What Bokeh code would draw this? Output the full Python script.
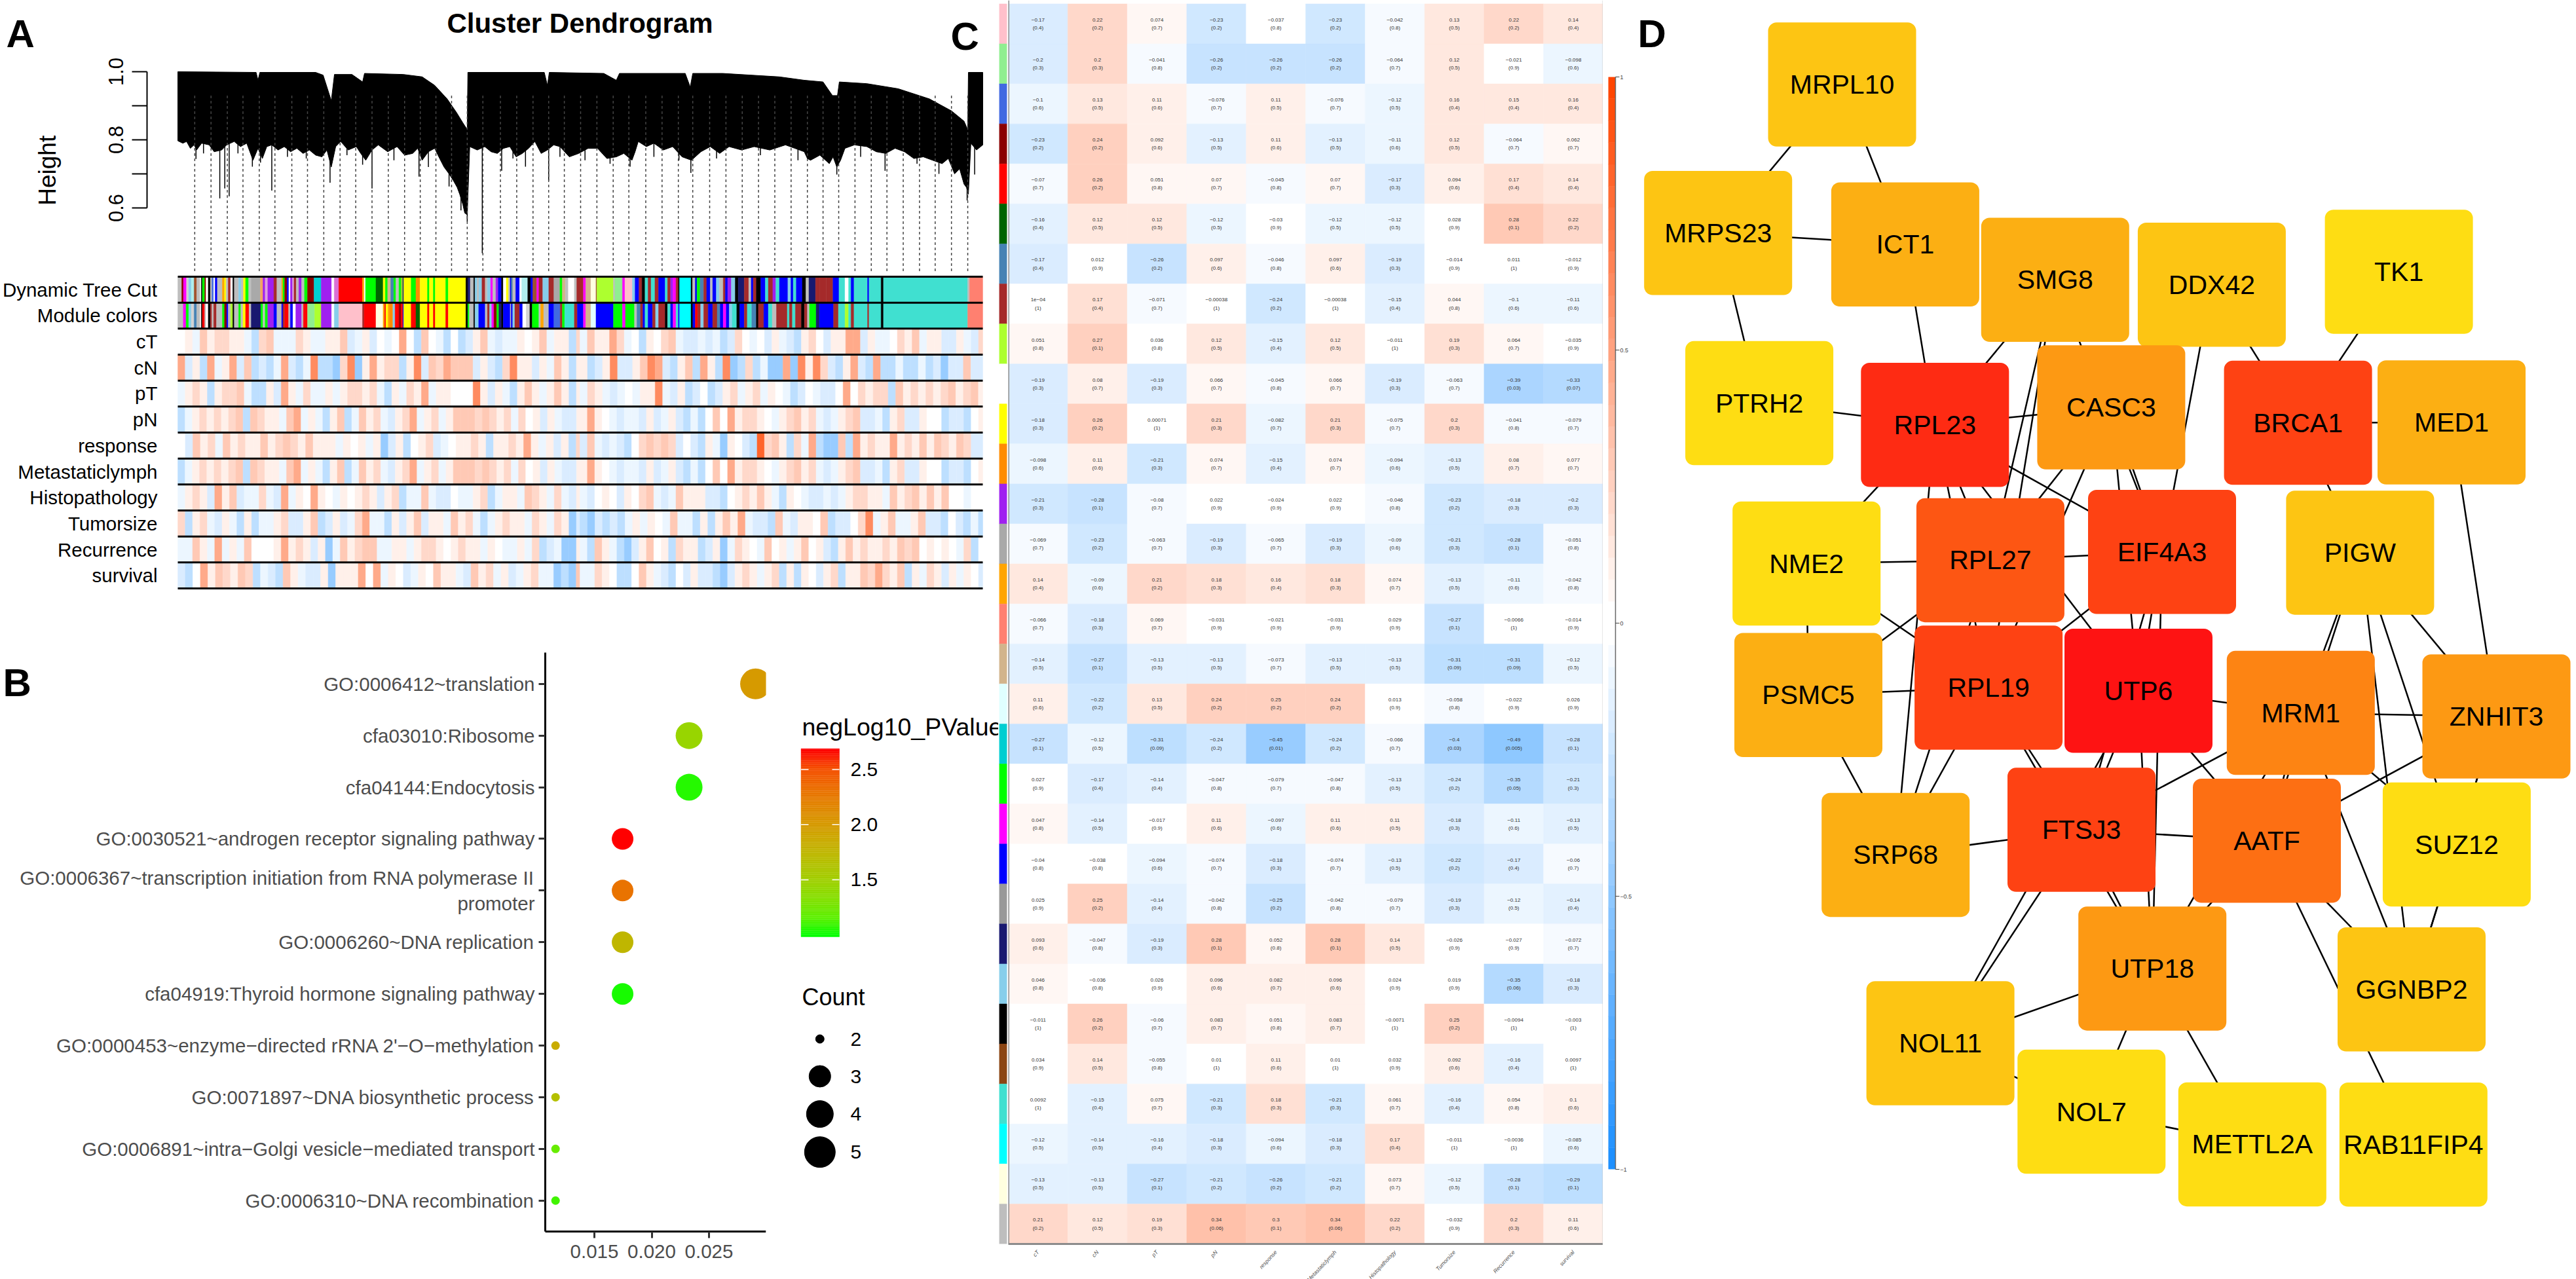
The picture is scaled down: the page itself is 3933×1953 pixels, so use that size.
import numpy as np
from math import pi
from bokeh.plotting import figure
from bokeh.layouts import row, column
from bokeh.models import (Range1d, FactorRange, Label, Span, FixedTicker, NumeralTickFormatter,
                          LinearColorMapper, ColumnDataSource)
from bokeh.transform import transform
from bokeh.core.properties import value
from bokeh.embed import file_html
from bokeh.resources import INLINE

FONT = "Liberation Sans"

# ------------------------------------------------------------ panel A data
# dendrogram envelope: leaf position (0-1285) and merge height
upper_x = [0,125,128,131,220,232,245,250,278,295,298,360,390,410,430,445,455,462,463,585,590,593,680,700,705,810,818,822,870,960,1000,1030,1045,1053,1056,1100,1150,1200,1235,1255,1261,1262,1285]
upper_h = [1.0,.998,.975,.998,.998,.99,.915,.992,.992,.97,.995,.992,.985,.96,.92,.88,.85,.83,.998,.998,.96,.998,.995,.975,.995,.995,.955,.995,.995,.985,.975,.97,.93,.93,.97,.965,.95,.92,.885,.855,.83,.998,.998]
lower_x = [0,8,14,20,26,30,38,50,58,70,78,90,100,110,120,128,135,142,150,160,170,180,190,200,210,220,230,238,245,252,260,272,285,292,300,310,320,335,350,362,375,383,390,400,410,418,425,433,440,446,450,455,458,462,466,478,490,500,510,520,530,540,550,560,570,580,590,600,610,625,640,655,670,685,700,712,725,730,735,748,760,775,790,805,820,835,850,865,880,900,920,945,970,985,1000,1005,1010,1025,1040,1046,1052,1058,1065,1080,1100,1115,1130,1145,1160,1175,1190,1205,1220,1230,1240,1248,1255,1259,1262,1266,1275,1285]
lower_h = [.797,.79,.795,.775,.785,.77,.79,.785,.765,.77,.785,.795,.78,.79,.74,.775,.745,.78,.785,.77,.78,.765,.775,.76,.77,.755,.75,.77,.72,.78,.795,.77,.78,.76,.74,.77,.785,.765,.78,.755,.76,.775,.74,.765,.775,.745,.72,.70,.68,.66,.64,.61,.585,.58,.78,.77,.78,.765,.76,.775,.78,.75,.76,.775,.795,.76,.77,.785,.78,.75,.76,.775,.775,.745,.75,.76,.74,.765,.795,.78,.79,.77,.78,.75,.74,.765,.78,.76,.78,.77,.78,.77,.785,.775,.765,.745,.74,.755,.73,.75,.72,.74,.775,.785,.78,.765,.76,.775,.765,.745,.75,.74,.73,.745,.70,.715,.67,.66,.64,.79,.77,.785]
spike_x = [29,41,67,75,82,96,119,132,150,175,205,243,270,295,310,345,385,400,433,452,462,486,517,535,555,592,610,650,690,722,760,800,819,860,930,990,1052,1090,1129,1180,1215,1260,1272]
spike_h = [.744,.76,.628,.657,.634,.76,.721,.733,.651,.75,.745,.674,.755,.727,.657,.74,.692,.72,.663,.593,.560,.467,.709,.745,.721,.680,.75,.74,.73,.721,.75,.74,.703,.745,.755,.74,.698,.75,.709,.73,.70,.622,.698]
cut_x = [27,53,79,104,130,155,182,207,233,259,284,310,336,362,387,412,437,462,487,515,541,567,592,617,643,669,695,720,747,773,799,822,849,875,901,927,953,979,1005,1030,1055,1081,1107,1132,1158,1184,1209,1235,1261]

tree_left = [(18,"gray"),(26,"darkred"),(40,"magenta"),(50,"lightgray"),(62,"skyblue"),(75,"paleturquoise"),(87,"sienna"),(103,"gray"),(108,"white"),(113,"black"),(124,"green"),(130,"darkred"),(140,"white"),(150,"black"),(157,"gray"),(165,"royalblue"),(172,"white"),(182,"blue"),(205,"gray"),(215,"orange"),(222,"yellow"),(232,"gray"),(243,"brown"),(253,"white"),(260,"black"),(280,"gray"),(292,"skyblue"),(302,"gray"),(312,"yellow"),(326,"green"),(338,"gray"),(380,"darkgray"),(392,"sandybrown"),(402,"purple"),(414,"plum"),(442,"purple"),(456,"brown"),(478,"gray"),(484,"orange"),(492,"green"),(503,"darkred"),(511,"blue"),(518,"white"),(528,"purple"),(535,"plum"),(545,"brown"),(557,"gray"),(570,"purple"),(583,"gray"),(597,"green"),(627,"darkred"),(660,"darkturquoise"),(708,"purple"),(720,"white"),(741,"orchid"),(850,"red"),(858,"orange"),(864,"white"),(912,"green"),(945,"darkgreen"),(955,"yellow"),(966,"green"),(980,"tan"),(994,"steelblue"),(1004,"green"),(1018,"gray"),(1028,"green"),(1036,"yellowgreen"),(1040,"navy"),(1074,"yellow"),(1096,"green"),(1115,"darkorange"),(1149,"yellow"),(1158,"green"),(1176,"yellow"),(1185,"green"),(1233,"yellow"),(1245,"green"),(1326,"yellow"),(1335,"black"),(1346,"midnightblue"),(1362,"gray"),(1368,"black"),(1378,"skyblue"),(1386,"gray"),(1400,"skyblue"),(1415,"brown"),(1425,"gray"),(1440,"skyblue"),(1450,"magenta"),(1464,"gray"),(1475,"purple"),(1490,"blue"),(1498,"black"),(1512,"white"),(1522,"yellow"),(1530,"gray"),(1540,"blue"),(1552,"brown"),(1560,"gray")]
module_left = [(25,"gray"),(38,"magenta"),(50,"green"),(62,"skyblue"),(75,"lightgray"),(87,"steelblue"),(103,"gray"),(108,"white"),(113,"black"),(124,"red"),(130,"gray"),(140,"white"),(150,"black"),(157,"brown"),(165,"gray"),(178,"brown"),(205,"gray"),(215,"green"),(225,"darkred"),(232,"blue"),(243,"gray"),(253,"greenyellow"),(260,"black"),(280,"gray"),(290,"green"),(300,"gray"),(312,"yellow"),(328,"red"),(338,"gray"),(382,"midnightblue"),(392,"green"),(402,"gray"),(414,"green"),(442,"purple"),(456,"blue"),(478,"gray"),(484,"blue"),(492,"brown"),(510,"red"),(518,"gray"),(530,"blue"),(543,"white"),(570,"purple"),(578,"gray"),(585,"red"),(597,"red"),(630,"lightgreen"),(660,"greenyellow"),(708,"purple"),(720,"white"),(741,"skyblue"),(850,"pink"),(858,"brown"),(912,"red"),(945,"lightyellow"),(952,"orange"),(958,"red"),(968,"yellow"),(975,"orange"),(990,"darkorange"),(1000,"skyblue"),(1018,"red"),(1028,"darkred"),(1036,"red"),(1040,"blue"),(1074,"yellow"),(1096,"red"),(1115,"darkgreen"),(1149,"yellow"),(1158,"red"),(1176,"yellow"),(1185,"red"),(1233,"yellow"),(1245,"red"),(1326,"yellow"),(1335,"black"),(1342,"green"),(1362,"gray"),(1368,"black"),(1385,"skyblue"),(1415,"blue"),(1425,"gray"),(1435,"brown"),(1445,"skyblue"),(1455,"magenta"),(1468,"darkred"),(1478,"green"),(1490,"midnightblue"),(1498,"black"),(1530,"blue"),(1545,"gray"),(1560,"brown")]
tree_right = [(5,"steelblue"),(15,"gray"),(28,"blue"),(35,"white"),(55,"paleturquoise"),(65,"black"),(72,"blue"),(85,"sienna"),(92,"magenta"),(105,"brown"),(125,"skyblue"),(142,"brown"),(162,"darkgray"),(170,"green"),(180,"tan"),(190,"gray"),(210,"white"),(218,"gray"),(240,"brown"),(248,"magenta"),(265,"tan"),(282,"lightyellow"),(285,"sienna"),(340,"greenyellow"),(345,"gray"),(370,"lightgreen"),(378,"magenta"),(403,"pink"),(412,"skyblue"),(425,"blue"),(435,"brown"),(445,"black"),(455,"turquoise"),(465,"brown"),(478,"turquoise"),(490,"brown"),(512,"blue"),(520,"turquoise"),(530,"brown"),(538,"purple"),(548,"magenta"),(556,"brown"),(560,"black"),(598,"cyan"),(603,"black"),(612,"gray"),(618,"blue"),(628,"green"),(640,"steelblue"),(650,"brown"),(662,"blue"),(670,"gray"),(682,"blue"),(692,"skyblue"),(705,"gray"),(712,"brown"),(720,"blue"),(732,"purple"),(745,"skyblue"),(755,"black"),(775,"midnightblue"),(790,"brown"),(798,"gray"),(805,"blue"),(815,"brown"),(830,"black"),(845,"blue"),(855,"turquoise"),(870,"brown"),(880,"purple"),(892,"turquoise"),(920,"blue"),(930,"skyblue"),(938,"blue"),(948,"turquoise"),(968,"blue"),(980,"black"),(990,"gray"),(1012,"midnightblue"),(1025,"brown"),(1048,"brown"),(1070,"brown"),(1090,"blue"),(1110,"turquoise"),(1122,"white"),(1130,"turquoise"),(1140,"blue"),(1185,"turquoise"),(1190,"blue"),(1230,"turquoise"),(1238,"black"),(1518,"turquoise"),(1524,"gray"),(1568,"salmon")]
module_right = [(5,"blue"),(12,"skyblue"),(28,"brown"),(38,"blue"),(50,"white"),(62,"lightgray"),(70,"black"),(92,"green"),(98,"gray"),(108,"orange"),(125,"gray"),(142,"blue"),(163,"royalblue"),(170,"brown"),(178,"green"),(210,"turquoise"),(220,"brown"),(240,"blue"),(248,"magenta"),(265,"tan"),(282,"lightcyan"),(340,"blue"),(370,"green"),(380,"magenta"),(410,"green"),(418,"gray"),(430,"steelblue"),(438,"brown"),(445,"blue"),(455,"turquoise"),(470,"blue"),(480,"brown"),(490,"skyblue"),(512,"brown"),(520,"black"),(530,"turquoise"),(538,"blue"),(548,"magenta"),(556,"turquoise"),(560,"blue"),(598,"cyan"),(604,"black"),(612,"blue"),(620,"red"),(630,"brown"),(640,"skyblue"),(655,"brown"),(670,"blue"),(685,"brown"),(695,"steelblue"),(705,"blue"),(715,"magenta"),(725,"blue"),(735,"skyblue"),(750,"turquoise"),(760,"black"),(775,"blue"),(785,"brown"),(800,"turquoise"),(815,"steelblue"),(822,"black"),(840,"brown"),(855,"blue"),(868,"turquoise"),(882,"gray"),(918,"brown"),(925,"turquoise"),(935,"brown"),(945,"turquoise"),(965,"brown"),(975,"black"),(985,"brown"),(992,"gray"),(1014,"green"),(1025,"midnightblue"),(1072,"blue"),(1088,"brown"),(1110,"turquoise"),(1122,"greenyellow"),(1130,"turquoise"),(1140,"brown"),(1185,"turquoise"),(1190,"brown"),(1230,"turquoise"),(1238,"black"),(1518,"turquoise"),(1568,"salmon")]

# gene-trait correlation stripes, one character per stripe, for left and right halves of the tree
LEVELS = {"D":-.45,"C":-.3,"B":-.2,"A":-.1,".":0,"a":.1,"b":.2,"c":.3,"d":.45,"e":.62,"f":.8}
trait_names = ["cT","cN","pT","pN","response","Metastaticlymph","Histopathology","Tumorsize","Recurrence","survival"]
trait_left = {
 "cT":".aAcabbaaACbcAAAbaAAaacBAaB.A.d.Cc.AC.CBacABAAa.acAaaCb",
 "cN":"dBaCdAadBcCBCAdBCAeCCDbeDadabbCaeBcbdcccBaBCbeaaBaAcaCa",
 "pT":"AabaCabbcACCaBdaAbAAaAabbabACaAbadAaa...eaBaACacaAacaCa",
 "pN":"CAabababcCcbaaAcdAaACacCAcabABabdAabAacccbcbabAb.aBaABBa",
 "response":".BcabAcabaacabcbacaaaAa.aAaDBaC.abBA.aabaCaabadaAaBaCb",
 "Metastaticlymph":"CAabababcCcbaaAcdAaACacCAcabABabdAabAacccbcbabAb.aBaABBa",
 "Histopathology":"AabaBdacBAAbABdAa.da.Aa.abaBabCAAcABB.AAabCAaaAcbaAbABa",
 "Tumorsize":"bCabABaACaCAAabBBacCBaBAbdAACaBacBaaAcabACAabaaAbaAbaDB",
 "Recurrence":"AAcaAdAaAc...adabaBaDAcabccAAaaAabba.abaaAa.AAaAbCBADDa",
 "survival":"BC.dacbacbCABCcaABBaDaaad.dAa.BAa.caaABcabAaBAabAADCDc",
}
trait_right = {
 "cT":"AcaadbA.Ca.bcABBABACBb.A.BaABCab.BaaddBaAA.bacAaaBBaABb",
 "cN":"aCBaeBBacedBCacCdaCeDCbCADDdDeaebBCadBCdCCACCACBDBBcBB",
 "pT":"AbaABA.AaaeABaCB.CBabAabAa.ACB.ABB.d.babbCcabababcabca",
 "pN":"ada.ABAABaBAaBCAC.c.dabba.AabcabABAabcBBACabBBa..CBBC.a",
 "response":"BcABABC.bcbcbB.BCaADa.BCfbcaCbAdCDDcCdabaadabacacbacbBB",
 "Metastaticlymph":"ada.ABAABaBAaBCAC.c.dabba.AabcabABAabcBBACabBBa..CBBC.a",
 "Histopathology":"AB.a.Ba.bcABAcaaaBBC.abacaACa.ABBABAabbaaAcabcacac..A..",
 "Tumorsize":"CDBCBCAaAa.AcAACaCacadABBCcABaa.cCBB.beAacAAacBBC.BCAC",
 "Recurrence":"ACcaACDBac.aCbaaCBaDAba.Ac.aAac.aBCacabaabacbc.a.a.AbC.",
 "survival":"AAba.CC.caABC.BaBBCDBabaAabCaCa.BabCaacbdbacCaAbaBaAa.B",
}

# ------------------------------------------------------------ panel B data
terms = ["GO:0006412~translation","cfa03010:Ribosome","cfa04144:Endocytosis",
         "GO:0030521~androgen receptor signaling pathway",
         "GO:0006367~transcription initiation from RNA polymerase II\npromoter",
         "GO:0006260~DNA replication","cfa04919:Thyroid hormone signaling pathway",
         "GO:0000453~enzyme\u2212directed rRNA 2'\u2212O\u2212methylation",
         "GO:0071897~DNA biosynthetic process",
         "GO:0006891~intra\u2212Golgi vesicle\u2212mediated transport","GO:0006310~DNA recombination"]
gene_ratio = [.02906,.02326,.02326,.01746,.01746,.01746,.01746,.01161,.01161,.01161,.01161]
counts     = [5,4,4,3,3,3,3,2,2,2,2]
neglog_p   = [2.0,1.45,1.05,2.69,2.3,1.75,1.03,1.85,1.65,1.2,1.1]
legend_counts = [2,3,4,5]
SIZE = {2:13,3:33,4:41,5:47}
gradient_stops = ["#00FF00","#5DF000","#84E000","#A0D000","#B6BF00","#C8AD00","#D69A00","#E28500","#EC6C00","#F54E00","#FF0000"]

# ------------------------------------------------------------ panel C data
module_rows = ["pink","lightgreen","royalblue","darkred","red","darkgreen","steelblue","brown","greenyellow","white","yellow","darkorange","purple","darkgray","orange","salmon","tan","lightcyan","darkturquoise","green","magenta","blue","grey60","midnightblue","skyblue","black","saddlebrown","turquoise","cyan","lightyellow","gray"]
corr = [
 "-0.17 0.22 0.074 -0.23 -0.037 -0.23 -0.042 0.13 0.22 0.14",
 "-0.2 0.2 -0.041 -0.26 -0.26 -0.26 -0.064 0.12 -0.021 -0.098",
 "-0.1 0.13 0.11 -0.076 0.11 -0.076 -0.12 0.16 0.15 0.16",
 "-0.23 0.24 0.092 -0.13 0.11 -0.13 -0.11 0.12 -0.064 0.062",
 "-0.07 0.26 0.051 0.07 -0.045 0.07 -0.17 0.094 0.17 0.14",
 "-0.16 0.12 0.12 -0.12 -0.03 -0.12 -0.12 0.028 0.28 0.22",
 "-0.17 0.012 -0.26 0.097 -0.046 0.097 -0.19 -0.014 0.011 -0.012",
 "1e-04 0.17 -0.071 -0.00038 -0.24 -0.00038 -0.15 0.044 -0.1 -0.11",
 "0.051 0.27 0.036 0.12 -0.15 0.12 -0.011 0.19 0.064 -0.035",
 "-0.19 0.08 -0.19 0.066 -0.045 0.066 -0.19 -0.063 -0.39 -0.33",
 "-0.18 0.26 0.00071 0.21 -0.082 0.21 -0.075 0.2 -0.041 -0.079",
 "-0.098 0.11 -0.21 0.074 -0.15 0.074 -0.094 -0.13 0.08 0.077",
 "-0.21 -0.28 -0.08 0.022 -0.024 0.022 -0.046 -0.23 -0.18 -0.2",
 "-0.069 -0.23 -0.063 -0.19 -0.065 -0.19 -0.09 -0.21 -0.28 -0.051",
 "0.14 -0.09 0.21 0.18 0.16 0.18 0.074 -0.13 -0.11 -0.042",
 "-0.066 -0.18 0.069 -0.031 -0.021 -0.031 0.029 -0.27 -0.0066 -0.014",
 "-0.14 -0.27 -0.13 -0.13 -0.073 -0.13 -0.13 -0.31 -0.31 -0.12",
 "0.11 -0.22 0.13 0.24 0.25 0.24 0.013 -0.058 -0.022 0.026",
 "-0.27 -0.12 -0.31 -0.24 -0.45 -0.24 -0.066 -0.4 -0.49 -0.28",
 "0.027 -0.17 -0.14 -0.047 -0.079 -0.047 -0.13 -0.24 -0.35 -0.21",
 "0.047 -0.14 -0.017 0.11 -0.097 0.11 0.11 -0.18 -0.11 -0.13",
 "-0.04 -0.038 -0.094 -0.074 -0.18 -0.074 -0.13 -0.22 -0.17 -0.06",
 "0.025 0.25 -0.14 -0.042 -0.25 -0.042 -0.079 -0.19 -0.12 -0.14",
 "0.093 -0.047 -0.19 0.28 0.052 0.28 0.14 -0.026 -0.027 -0.072",
 "0.046 -0.036 0.026 0.096 0.082 0.096 0.024 0.019 -0.35 -0.18",
 "-0.011 0.26 -0.06 0.083 0.051 0.083 -0.0071 0.25 -0.0094 -0.003",
 "0.034 0.14 -0.055 0.01 0.11 0.01 0.032 0.092 -0.16 0.0097",
 "0.0092 -0.15 0.075 -0.21 0.18 -0.21 0.061 -0.16 0.054 0.1",
 "-0.12 -0.14 -0.16 -0.18 -0.094 -0.18 0.17 -0.011 -0.0036 -0.085",
 "-0.13 -0.13 -0.27 -0.21 -0.26 -0.21 0.073 -0.12 -0.28 -0.29",
 "0.21 0.12 0.19 0.34 0.3 0.34 0.22 -0.032 0.2 0.11",
]
pvals = [
 "0.4 0.2 0.7 0.2 0.8 0.2 0.8 0.5 0.2 0.4","0.3 0.3 0.8 0.2 0.2 0.2 0.7 0.5 0.9 0.6",
 "0.6 0.5 0.6 0.7 0.5 0.7 0.5 0.4 0.4 0.4","0.2 0.2 0.6 0.5 0.6 0.5 0.6 0.5 0.7 0.7",
 "0.7 0.2 0.8 0.7 0.8 0.7 0.3 0.6 0.4 0.4","0.4 0.5 0.5 0.5 0.9 0.5 0.5 0.9 0.1 0.2",
 "0.4 0.9 0.2 0.6 0.8 0.6 0.3 0.9 1 0.9","1 0.4 0.7 1 0.2 1 0.4 0.8 0.6 0.6",
 "0.8 0.1 0.8 0.5 0.4 0.5 1 0.3 0.7 0.9","0.3 0.7 0.3 0.7 0.8 0.7 0.3 0.7 0.03 0.07",
 "0.3 0.2 1 0.3 0.7 0.3 0.7 0.3 0.8 0.7","0.6 0.6 0.3 0.7 0.4 0.7 0.6 0.5 0.7 0.7",
 "0.3 0.1 0.7 0.9 0.9 0.9 0.8 0.2 0.3 0.3","0.7 0.2 0.7 0.3 0.7 0.3 0.6 0.3 0.1 0.8",
 "0.4 0.6 0.2 0.3 0.4 0.3 0.7 0.5 0.6 0.8","0.7 0.3 0.7 0.9 0.9 0.9 0.9 0.1 1 0.9",
 "0.5 0.1 0.5 0.5 0.7 0.5 0.5 0.09 0.09 0.5","0.6 0.2 0.5 0.2 0.2 0.2 0.9 0.8 0.9 0.9",
 "0.1 0.5 0.09 0.2 0.01 0.2 0.7 0.03 0.005 0.1","0.9 0.4 0.4 0.8 0.7 0.8 0.5 0.2 0.05 0.3",
 "0.8 0.5 0.9 0.6 0.6 0.6 0.5 0.3 0.6 0.5","0.8 0.8 0.6 0.7 0.3 0.7 0.5 0.2 0.4 0.7",
 "0.9 0.2 0.4 0.8 0.2 0.8 0.7 0.3 0.5 0.4","0.6 0.8 0.3 0.1 0.8 0.1 0.5 0.9 0.9 0.7",
 "0.8 0.8 0.9 0.6 0.7 0.6 0.9 0.9 0.06 0.3","1 0.2 0.7 0.7 0.8 0.7 1 0.2 1 1",
 "0.9 0.5 0.8 1 0.6 1 0.9 0.6 0.4 1","1 0.4 0.7 0.3 0.3 0.3 0.7 0.4 0.8 0.6",
 "0.5 0.5 0.4 0.3 0.6 0.3 0.4 1 1 0.6","0.5 0.5 0.1 0.2 0.2 0.2 0.7 0.5 0.1 0.1",
 "0.2 0.5 0.3 0.06 0.1 0.06 0.2 0.9 0.3 0.6",
]

# ------------------------------------------------------------ panel D data
genes = ["MRPL10","MRPS23","ICT1","SMG8","DDX42","TK1","PTRH2","RPL23","CASC3","BRCA1","MED1","NME2","RPL27","EIF4A3","PIGW","PSMC5","RPL19","UTP6","MRM1","ZNHIT3","FTSJ3","AATF","SUZ12","SRP68","UTP18","GGNBP2","NOL11","NOL7","METTL2A","RAB11FIP4"]
gene_x = [2808,2618.7,2904.4,3133.3,3372.4,3658.1,2681.6,2949.8,3218.9,3504.1,3738.5,2753.7,3034.4,3296.5,3598.9,2756.5,3031.6,3260.5,3508.3,3807,3173.5,3456.5,3746.4,2889.7,3281.7,3677.5,2958.1,3188.8,3434.3,3680.3]
gene_y = [128.5,355.2,372.8,426.7,434.3,414.5,615.1,648.3,621.5,645.1,644.5,860,854.9,842.2,843.4,1060.7,1049.5,1054.3,1088.1,1093.5,1266.6,1283.2,1289,1304.9,1478.4,1510.3,1592.5,1697.1,1746.9,1747.2]
gene_color = ["#FDC513","#FDC513","#FCAF13","#FCAF13","#FDC513","#FEDD13","#FEDD13","#FE2B13","#FD9913","#FE4213","#FCAF13","#FEDD13","#FD5613","#FE4213","#FDC513","#FCAF13","#FE4213","#FE1313","#FD8413","#FD9913","#FE4213","#FD6F13","#FEDD13","#FCAF13","#FD9913","#FDC513","#FDC513","#FEDD13","#FEDD13","#FEDD13"]
edges = [("MRPL10","MRPS23"),("MRPL10","ICT1"),("MRPS23","ICT1"),("MRPS23","PTRH2"),("ICT1","RPL23"),("PTRH2","RPL23"),("RPL23","CASC3"),("SMG8","RPL23"),("SMG8","RPL27"),("SMG8","RPL19"),("SMG8","EIF4A3"),("DDX42","EIF4A3"),("DDX42","BRCA1"),("TK1","BRCA1"),("BRCA1","MED1"),("BRCA1","PIGW"),("MED1","ZNHIT3"),("CASC3","RPL27"),("CASC3","RPL19"),("CASC3","EIF4A3"),("CASC3","UTP6"),("RPL23","EIF4A3"),("RPL23","RPL27"),("RPL23","RPL19"),("RPL23","UTP6"),("RPL23","NME2"),("RPL23","SRP68"),("NME2","RPL27"),("RPL27","EIF4A3"),("NME2","RPL19"),("NME2","PSMC5"),("PSMC5","RPL27"),("PSMC5","RPL19"),("PSMC5","SRP68"),("EIF4A3","RPL19"),("EIF4A3","UTP6"),("EIF4A3","FTSJ3"),("EIF4A3","UTP18"),("RPL27","SRP68"),("RPL19","SRP68"),("RPL19","FTSJ3"),("RPL19","UTP18"),("UTP6","MRM1"),("UTP6","AATF"),("UTP6","FTSJ3"),("UTP6","UTP18"),("UTP6","NOL11"),("PIGW","MRM1"),("PIGW","GGNBP2"),("PIGW","SUZ12"),("PIGW","ZNHIT3"),("PIGW","AATF"),("MRM1","ZNHIT3"),("MRM1","FTSJ3"),("MRM1","SUZ12"),("MRM1","AATF"),("MRM1","GGNBP2"),("MRM1","UTP18"),("ZNHIT3","AATF"),("ZNHIT3","SUZ12"),("ZNHIT3","GGNBP2"),("FTSJ3","AATF"),("FTSJ3","SRP68"),("FTSJ3","NOL11"),("FTSJ3","UTP18"),("AATF","UTP18"),("AATF","GGNBP2"),("AATF","RAB11FIP4"),("SUZ12","GGNBP2"),("UTP18","NOL11"),("UTP18","NOL7"),("UTP18","METTL2A"),("NOL11","NOL7"),("NOL7","METTL2A")]

# ------------------------------------------------------------ helpers
CSS = {"gray":"#BEBEBE","green":"#00FF00","purple":"#A020F0","salmon":"#FF8070","grey60":"#999999","darkgray":"#A9A9A9","lightgray":"#D3D3D3","tan":"#D2B48C"}
def col(c): return CSS.get(c, c)

LEAF = 1285 / 1229          # leaves per page pixel in panel A
def bare(p):
    p.grid.visible = False
    p.outline_line_color = None
    p.background_fill_color = "white"
    p.border_fill_color = "white"
    return p
def letter(p, txt, x, y):
    p.add_layout(Label(x=x, y=y, text=txt, text_font=FONT, text_font_style="bold", text_font_size="60px", text_color="black", text_baseline="alphabetic"))

blue_red = ["#%02X%02X%02X" % tuple(int(round(255 + (a-255)*t)) for a in (0x1E,0x90,0xFF)) for t in np.linspace(1,0,25)] + \
           ["#%02X%02X%02X" % tuple(int(round(255 + (a-255)*t)) for a in (0xFF,0x45,0x00)) for t in np.linspace(0,1,25)]
corr_map = LinearColorMapper(palette=blue_red, low=-1, high=1)

stops = np.array([[int(s[i:i+2],16) for i in (1,3,5)] for s in gradient_stops], dtype=float)
tt = np.linspace(0,1,200)
green_red = ["#%02X%02X%02X" % tuple(int(round(np.interp(t, np.linspace(0,1,len(stops)), stops[:,k]))) for k in range(3)) for t in tt]

X0, X1 = (0-271)*LEAF, (1524-271)*LEAF
# ------------------------------------------------------------ A1: dendrogram
a1 = bare(figure(frame_width=1524, frame_height=418, min_border=0, frame_align=False,
                 x_range=Range1d(X0,X1), y_range=Range1d(.4058,1.2096), x_axis_type=None, toolbar_location=None, output_backend="svg"))
a1.patch(upper_x + lower_x[::-1], upper_h + lower_h[::-1], color="black", line_width=1)
a1.segment(spike_x, [.82]*len(spike_x), spike_x, spike_h, color="black", line_width=1.5)
a1.segment(cut_x, [.93]*len(cut_x), cut_x, [.4058]*len(cut_x), color="#444444", line_width=1.5, line_dash="4 4")
ax = a1.yaxis[0]
ax.fixed_location = -49
ax.bounds = (.6, 1.0)
ax.ticker = FixedTicker(ticks=[.6,.7,.8,.9,1.0])
ax.major_label_overrides = {.6:"0.6",.7:"",.8:"0.8",.9:"",1.0:"1.0"}
ax.major_label_orientation = "vertical"
ax.major_label_text_font = FONT
ax.major_label_text_font_size = "31px"
ax.major_label_text_color = "black"
ax.major_label_standoff = 14
ax.major_tick_out = 23
ax.major_tick_in = 0
ax.minor_tick_line_color = None
ax.axis_line_width = 2
ax.major_tick_line_width = 2
a1.add_layout(Label(x=(72-271)*LEAF, y=.71, text="Height", angle=pi/2, angle_units="rad", text_font=FONT, text_font_size="37px",
                    text_align="center", text_baseline="middle", text_color="black"))
a1.add_layout(Label(x=(885-271)*LEAF, y=1.142, text="Cluster Dendrogram", text_font=FONT, text_font_style="bold", text_font_size="42px",
                    text_align="center", text_baseline="middle", text_color="black"))
letter(a1, "A", (9-271)*LEAF, 1.1115)
letter(a1, "C", (1451-271)*LEAF, 1.104)

# ------------------------------------------------------------ A2: colour rows and trait rows
row_names = ["Dynamic Tree Cut","Module colors"] + trait_names
row_y = {nm: len(row_names)-1-i+.5 for i, nm in enumerate(row_names)}
a2 = bare(figure(frame_width=1524, frame_height=484, min_border=0, frame_align=False,
                 x_range=Range1d(X0,X1), y_range=Range1d(-.1008,12.1008), x_axis_type=None, y_axis_type=None,
                 toolbar_location=None, output_backend="svg"))
def add_segments(name, reads, scale, offset):
    start = offset * LEAF
    L, R, C = [], [], []
    for end, c in reads:
        e = min((offset + end/scale) * LEAF, 1285)
        L.append(start); R.append(e); C.append(col(c)); start = e
    a2.hbar(y=[row_y[name]]*len(L), left=L, right=R, height=1, color=C, line_color=C, line_width=.5)
add_segments("Dynamic Tree Cut", tree_left, 3.015, 0)
add_segments("Dynamic Tree Cut", tree_right, 2.178, 509)
add_segments("Module colors", module_left, 3.015, 0)
add_segments("Module colors", module_right, 2.178, 509)
for nm in trait_names:
    for s, x0, x1 in ((trait_left[nm], 0, 648), (trait_right[nm], 642, 1290)):
        ex = np.minimum(np.linspace(x0, x1, len(s)+1), 1285)
        vals = [LEVELS[ch] for ch in s]
        a2.hbar(source=ColumnDataSource(dict(y=[row_y[nm]]*len(s), l=ex[:-1].tolist(), r=ex[1:].tolist(), v=vals)),
                y="y", left="l", right="r", height=1, color=transform("v", corr_map), line_color=transform("v", corr_map), line_width=.5)
a2.segment([0]*13, list(range(13)), [1285]*13, list(range(13)), color="black", line_width=3)
a2.text([(240-271)*LEAF]*len(row_names), [row_y[n] for n in row_names], text=row_names, text_font=value(FONT), text_font_size="29.5px",
        text_align="right", text_baseline="middle", text_color="black")

# ------------------------------------------------------------ B: dot plot
term_y = [10-i for i in range(len(terms))]
b = bare(figure(frame_width=1169, frame_height=1051, min_border=0, min_border_right=11, frame_align=False,
                x_range=Range1d(-.03683,.02997), y_range=Range1d(-1.524,11.797), toolbar_location=None, output_backend="svg"))
b.scatter(gene_ratio, term_y, size=[SIZE[c] for c in counts], marker="circle", line_color=None,
          fill_color=[green_red[int(round((v-.983)/(2.689-.983)*199))] for v in neglog_p])
bx, by = b.xaxis[0], b.yaxis[0]
bx.fixed_location = -.605
by.fixed_location = .01071
bx.bounds = (.01071,.02997)
by.bounds = (-.605,10.605)
for axs in (bx, by):
    axs.axis_line_color = "black"; axs.axis_line_width = 3
    axs.major_tick_line_color = "#333333"; axs.major_tick_line_width = 3
    axs.major_tick_out = 10; axs.major_tick_in = 0; axs.minor_tick_line_color = None
    axs.major_label_text_font = FONT; axs.major_label_text_color = "#4D4D4D"
    axs.major_label_text_font_size = "29.5px"; axs.major_label_standoff = 6
bx.ticker = FixedTicker(ticks=[.015,.02,.025])
bx.formatter = NumeralTickFormatter(format="0.000")
bx.major_label_standoff = 10
by.ticker = FixedTicker(ticks=term_y)
by.major_label_overrides = {y:t for y,t in zip(term_y, terms)}
letter(b, "B", -.0366, 10.02)

# legend figure of panel B, in page pixels
lg = bare(figure(width=344, height=1051, min_border=0, frame_align=False, x_range=Range1d(1180,1524), y_range=Range1d(1953,902), x_axis_type=None, y_axis_type=None,
                 toolbar_location=None, output_backend="svg"))
lev = np.linspace(.983, 2.689, 201)
cb_y = lambda v: 1342.9 - (v-1.5)/.5*84.2
lg.quad(left=1222.6, right=1281, top=[cb_y(v) for v in lev[1:]], bottom=[cb_y(v) for v in lev[:-1]], color=green_red, line_width=.5)
ticks = [1.5,2.0,2.5]
lg.segment([1222.6]*3, [cb_y(t) for t in ticks], [1234]*3, [cb_y(t) for t in ticks], color="white", line_width=1.5)
lg.segment([1270]*3, [cb_y(t) for t in ticks], [1281]*3, [cb_y(t) for t in ticks], color="white", line_width=1.5)
lg.text([1298]*3, [cb_y(t) for t in ticks], text=[str(t) for t in ticks], text_font=value(FONT), text_font_size="30px", text_baseline="middle", text_color="black")
lg.text([1224], [1109], text=["negLog10_PValue"], text_font=value(FONT), text_font_size="37.5px", text_baseline="middle", text_color="black")
lg.text([1224], [1522], text=["Count"], text_font=value(FONT), text_font_size="36px", text_baseline="middle", text_color="black")
leg_y = [1586,1643,1700.6,1758.7]
lg.scatter([1251.3]*4, leg_y, size=[SIZE[c] for c in legend_counts], color="black", marker="circle")
lg.text([1298]*4, leg_y, text=[str(c) for c in legend_counts], text_font=value(FONT), text_font_size="30px", text_baseline="middle", text_color="black")

# ------------------------------------------------------------ C: module-trait heatmap
n_rows = len(module_rows)
h_y = Range1d(0, n_rows + 5.4/61.1)
strip = bare(figure(frame_width=12, frame_height=1899, min_border_left=1, min_border_right=2, min_border_top=0, min_border_bottom=54, frame_align=False,
                    x_range=Range1d(0,1), y_range=h_y, x_axis_type=None, y_axis_type=None, toolbar_location=None, output_backend="svg"))
rows_idx = [n_rows-1-i for i in range(n_rows)]
strip.quad(left=0, right=1, bottom=rows_idx, top=[r+1 for r in rows_idx], color=[col(c) for c in module_rows], line_width=.5)

heat = bare(figure(frame_width=908, frame_height=1899, min_border_left=0, min_border_right=0, min_border_top=0, min_border_bottom=54, frame_align=False,
                   x_range=FactorRange(factors=trait_names, range_padding=0), y_range=h_y, y_axis_type=None, toolbar_location=None, output_backend="svg"))
H = dict(x=[], y=[], v=[], t=[])
for i in range(n_rows):
    cs, ps = corr[i].split(), pvals[i].split()
    for tn, c_, p_ in zip(trait_names, cs, ps):
        H["x"].append(tn); H["y"].append(n_rows-1-i+.5); H["v"].append(float(c_))
        H["t"].append(c_.replace("-", "\u2212") + "\n(" + p_ + ")")
src = ColumnDataSource(H)
heat.rect("x", "y", width=1, height=1, source=src, fill_color=transform("v", corr_map), line_color=transform("v", corr_map), line_width=.5)
heat.text("x", "y", text="t", source=src, text_font=value(FONT), text_font_size="8px", text_color="#333333",
          text_align="center", text_baseline="middle", text_line_height=1.35)
hx = heat.xaxis[0]
hx.major_tick_line_color = None; hx.axis_line_color = "#8C8C8C"; hx.axis_line_width = 3
hx.major_label_orientation = 47*pi/180
hx.major_label_text_font = FONT; hx.major_label_text_font_style = "italic"; hx.major_label_text_font_size = "8.5px"
hx.major_label_text_color = "#555555"; hx.major_label_standoff = 5
heat.add_layout(Span(location=10, dimension="height", line_color="#A0A0A0", line_width=1.5))
heat.add_layout(Span(location=0, dimension="height", line_color="#8C8C8C", line_width=3))

cbar = bare(figure(frame_width=11, frame_height=1668, min_border_left=8, min_border_right=24, min_border_top=117, min_border_bottom=168, frame_align=False,
                   x_range=Range1d(0,1), y_range=Range1d(-1,1), x_axis_type=None, y_axis_location="right", toolbar_location=None, output_backend="svg"))
cb_lev = np.linspace(-1,1,51)
cbar.quad(left=0, right=1, bottom=cb_lev[:-1], top=cb_lev[1:], color=blue_red, line_width=.5)
cy = cbar.yaxis[0]
cy.ticker = FixedTicker(ticks=[-1,-.5,0,.5,1])
cy.major_label_overrides = {-1:"\u22121",-.5:"\u22120.5",0:"0",.5:"0.5",1:"1"}
cy.major_label_text_font = FONT; cy.major_label_text_font_size = "9px"; cy.major_label_text_color = "#444444"
cy.major_tick_out = 6; cy.major_tick_in = 0; cy.minor_tick_line_color = None
cy.axis_line_color = "#666666"; cy.axis_line_width = 1.5; cy.major_tick_line_color = "#444444"; cy.major_label_standoff = 1

# ------------------------------------------------------------ D: network
d = bare(figure(width=1443, height=1953, min_border=0, frame_align=False, x_range=Range1d(2490,3933), y_range=Range1d(1953,0), x_axis_type=None, y_axis_type=None,
                toolbar_location=None, output_backend="svg"))
pos = {g:(x,y) for g,x,y in zip(genes, gene_x, gene_y)}
d.segment([pos[a][0] for a,_ in edges], [pos[a][1] for a,_ in edges], [pos[c][0] for _,c in edges], [pos[c][1] for _,c in edges], color="black", line_width=2.5)
BW, BH = 226, 189.5
d.quad(left=[x-BW/2 for x in gene_x], right=[x+BW/2 for x in gene_x], top=[y-BH/2 for y in gene_y], bottom=[y+BH/2 for y in gene_y],
       fill_color=gene_color, line_color=None, border_radius=13)
d.text(gene_x, gene_y, text=genes, text_font=value(FONT), text_font_size="41px", text_align="center", text_baseline="middle", text_color="black")
d.add_layout(Label(x=2496, y=51, text="D", text_font=FONT, text_font_style="bold", text_font_size="60px", text_color="black", text_baseline="alphabetic"))

page = row(column(a1, a2, row(b, lg, spacing=0), spacing=0), strip, heat, cbar, d, spacing=0)
open("out.html", "w").write(file_html(page, INLINE))
